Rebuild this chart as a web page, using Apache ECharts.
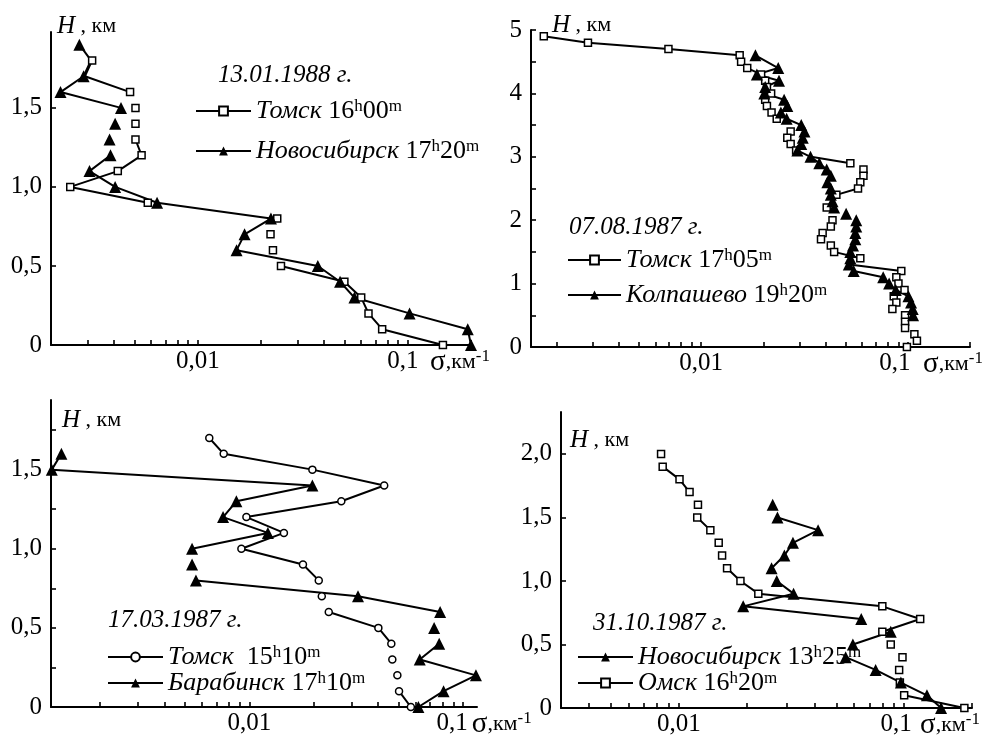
<!DOCTYPE html>
<html><head><meta charset="utf-8">
<script src="https://cdn.jsdelivr.net/npm/echarts@6/dist/echarts.min.js"></script>
<style>html,body{margin:0;padding:0;background:#fff}#c{width:990px;height:740px}</style>
</head><body><div id="c"></div>
<script>
const FONT = '"Liberation Serif", "Times New Roman", serif';
const TICK_COLOR = '#000';

// ---- axis ticks / labels ----
const sigmaTicks = [0.002,0.003,0.004,0.005,0.006,0.007,0.008,0.009,0.01,0.02,0.03,0.04,0.05,0.06,0.07,0.08,0.09,0.1,0.2];
const sigmaLabels = [0.01, 0.1];
const p1YTicks = [0, 0.5, 1, 1.5];
const p2YTicks = [0, 0.5, 1, 1.5, 2, 2.5, 3, 3.5, 4, 4.5, 5];
const p2YLabels = [0, 1, 2, 3, 4, 5];
const p3YTicks = [0, 0.25, 0.5, 0.75, 1, 1.25, 1.5, 1.75];
const p3YLabels = [0, 0.5, 1, 1.5];
const p4YTicks = [0, 0.5, 1, 1.5, 2];

// ---- panel 1: 13.01.1988 ----
const p1Date = '13.01.1988 г.';
const p1Names = ['Томск 16h00m', 'Новосибирск 17h20m'];
const p1TomskH = [1.8, 1.7, 1.6, null, 1.5, null, 1.4, null, 1.3, 1.2, 1.1, 1.0, 0.9, null, 0.8, null, 0.7, null, 0.6, null, 0.5, 0.4, 0.3, 0.2, 0.1, 0];
const p1TomskS = [0.00314, 0.0029, 0.00476, null, 0.00505, null, 0.00505, null, 0.00505, 0.0054, 0.00416, 0.00247, 0.00578, null, 0.0239, null, 0.0222, null, 0.0228, null, 0.0249, 0.0499, 0.06, 0.065, 0.0755, 0.147];
const p1TomskHidden = [1.7];
const p1NovH = [1.9, 1.8, 1.7, 1.6, 1.5, null, 1.4, null, 1.3, null, 1.2, 1.1, 1.0, 0.9, 0.8, 0.7, 0.6, 0.5, 0.4, 0.3, 0.2, 0.1, 0];
const p1NovS = [0.00273, 0.0031, 0.00286, 0.00222, 0.00431, null, 0.00404, null, 0.0038, null, 0.00384, 0.00305, 0.00404, 0.0064, 0.0223, 0.0167, 0.0153, 0.0373, 0.0476, 0.0557, 0.102, 0.193, 0.2];
const p1NovHidden = [1.8];

// ---- panel 2: 07.08.1987 ----
const p2Date = '07.08.1987 г.';
const p2Names = ['Томск 17h05m', 'Колпашево 19h20m'];
const p2TomskH = [4.9, 4.8, 4.7, 4.6, 4.5, 4.4, 4.3, 4.2, 4.1, 4.0, null, 3.9, null, 3.8, null, 3.7, null, 3.6, null, 3.4, null, 3.3, null, 3.2, null, 3.1, null,
  3.0, 2.9, null, 2.8, null, 2.7, null, 2.6, 2.5, 2.4, null, 2.2, null, 2.0, null, 1.9, null, 1.8, null, 1.7, null, 1.6, 1.5, 1.4, null, 1.3, 1.2, null,
  1.1, null, 1.0, null, 0.9, null, 0.8, null, 0.7, null, 0.6, null, 0.5, null, 0.4, null, 0.3, null, 0.2, 0.1, null, 0];
const p2TomskS = [0.00173, 0.00283, 0.00694, 0.01535, 0.0156, 0.0167, 0.0195, 0.0204, 0.0208, 0.0218, null, 0.0204, null, 0.0208, null, 0.0219, null, 0.0232, null, 0.0271, null, 0.0261, null, 0.0271, null, 0.0288, null,
  0.034, 0.0527, null, 0.061, null, 0.061, null, 0.0589, 0.0574, 0.0451, null, 0.0405, null, 0.0432, null, 0.0424, null, 0.0387, null, 0.038, null, 0.0424, 0.044, 0.0589, null, 0.052, 0.093, null,
  0.088, null, 0.0901, null, 0.0964, null, 0.0855, null, 0.088, null, 0.0842, null, 0.097, null, 0.097, null, 0.097, null, 0.1076, 0.1107, null, 0.099];
const p2TomskHidden = [3.0, 1.3];
const p2KolH = [4.6, 4.4, 4.3, 4.2, 4.1, 4.0, 3.9, 3.8, 3.7, 3.6, 3.5, 3.4, 3.3, 3.2, 3.1, 3.0, 2.9, 2.8, 2.7, 2.6, 2.5, 2.4, 2.3, 2.2, null, 2.1, null,
  2.0, 1.9, 1.8, 1.7, 1.6, 1.5, 1.4, 1.3, 1.2, 1.1, 1.0, 0.9, 0.8, 0.7, 0.6, 0.5];
const p2KolS = [0.0183, 0.0236, 0.0186, 0.0238, 0.0204, 0.0202, 0.0252, 0.0261, 0.0243, 0.0259, 0.0305, 0.0316, 0.031, 0.0305, 0.0292, 0.0338, 0.0373, 0.0405, 0.0424, 0.0408, 0.0424, 0.0424, 0.0432, 0.044, null, 0.0503, null,
  0.0563, 0.0563, 0.0557, 0.0557, 0.0543, 0.0527, 0.0527, 0.0518, 0.0547, 0.076, 0.0812, 0.0874, 0.1007, 0.1037, 0.1056, 0.106];

// ---- panel 3: 17.03.1987 ----
const p3Date = '17.03.1987 г.';
const p3Names = ['Томск  15h10m', 'Барабинск 17h10m'];
const p3TomskH = [1.7, 1.6, 1.5, 1.4, 1.3, 1.2, 1.1, 1.0, 0.9, 0.8, null, 0.7, null, 0.6, 0.5, 0.4, null, 0.3, null, 0.2, null, 0.1, 0];
const p3TomskS = [0.00649, 0.00758, 0.0197, 0.0427, 0.0269, 0.00968, 0.0145, 0.00917, 0.0178, 0.0211, null, 0.0218, null, 0.0235, 0.0401, 0.0461, null, 0.0466, null, 0.0492, null, 0.0501, 0.0569];
const p3BarH = [1.6, 1.5, 1.4, 1.3, 1.2, 1.1, 1.0, null, 0.9, null, 0.8, 0.7, 0.6, null, 0.5, null, 0.4, 0.3, 0.2, 0.1, 0];
const p3BarS = [0.00132, 0.00119, 0.0197, 0.00869, 0.00753, 0.0122, 0.00539, null, 0.00539, null, 0.00562, 0.0322, 0.078, null, 0.0731, null, 0.0772, 0.0626, 0.1147, 0.0809, 0.0617];

// ---- panel 4: 31.10.1987 ----
const p4Date = '31.10.1987 г.';
const p4Names = ['Новосибирск 13h25m', 'Омск 16h20m'];
const p4OmskH = [2.0, null, 1.9, 1.8, 1.7, null, 1.6, null, 1.5, 1.4, null, 1.3, null, 1.2, null, 1.1, 1.0, 0.9, 0.8, 0.7, 0.6, null, 0.5, null, 0.4, null, 0.3, null, 0.2, null, 0.1, 0];
const p4OmskS = [0.00834, null, 0.00848, 0.01007, 0.01116, null, 0.01216, null, 0.01207, 0.0138, null, 0.01503, null, 0.01556, null, 0.01637, 0.01877, 0.02253, 0.08, 0.1178, 0.08, null, 0.0872, null, 0.0983, null, 0.095, null, 0.0957, null, 0.1, 0.185];
const p4NovH = [1.6, null, 1.5, 1.4, 1.3, 1.2, 1.1, null, 1.0, 0.9, 0.8, 0.7, null, 0.6, 0.5, null, 0.4, 0.3, 0.2, 0.1, 0];
const p4NovS = [0.0261, null, 0.0274, 0.0415, 0.0321, 0.0294, 0.0258, null, 0.0272, 0.0323, 0.0193, 0.0645, null, 0.0872, 0.0592, null, 0.055, 0.0747, 0.0967, 0.1262, 0.1458];

// ---- helpers ----
function pts(H, S, hidden) {
  return H.map((h, i) => {
    if (h === null) return ['-', '-'];
    if (hidden && hidden.indexOf(h) >= 0) return { value: [S[i], h], symbol: 'none' };
    return [S[i], h];
  });
}
const MARK = {
  sq: { symbol: 'rect', symbolSize: 7, itemStyle: { color: '#fff', borderColor: '#000', borderWidth: 1.5 } },
  tri: { symbol: 'triangle', symbolSize: 12, itemStyle: { color: '#000', borderColor: '#000', borderWidth: 0 } },
  ci: { symbol: 'circle', symbolSize: 7, itemStyle: { color: '#fff', borderColor: '#000', borderWidth: 1.5 } }
};
function ser(name, gi, H, S, kind, hidden) {
  return Object.assign({
    type: 'line', name, xAxisIndex: gi, yAxisIndex: gi, data: pts(H, S, hidden),
    connectNulls: false, clip: false, silent: true, animation: false,
    lineStyle: { color: '#000', width: 2 }, emphasis: { disabled: true }
  }, MARK[kind]);
}
const yFmt1 = v => (v === 0 ? '0' : v.toFixed(1).replace('.', ','));
const tenthShift = [10, 26, 22, 16];
const xFmt = v => (v >= 0.1 ? '{t|0,1}' : String(v).replace('.', ','));

const grids = [
  { left: 51, top: 32, width: 420, height: 313 },
  { left: 531, top: 30, width: 439, height: 317 },
  { left: 51, top: 400, width: 426, height: 307 },
  { left: 561, top: 412, width: 411, height: 296 }
];
const xRange = [[0.002, 0.2], [0.0015, 0.2], [0.00118, 0.116], [0.003, 0.2]];
const xNameGap = [-41, -47, -7, -52];
const yMax = [1.98, 5, 1.94, 2.33];
const yTicks = [p1YTicks, p2YTicks, p3YTicks, p4YTicks];
const yLabels = [p1YTicks, p2YLabels, p3YLabels, p4YTicks];
const yNameGap = [6, 5, -20, -28];
const yNamePadLeft = [6, 21, 11, 9];

function mkAxisLine() { return { show: true, lineStyle: { color: '#000', width: 2 } }; }
function mkTick(values) {
  return { show: true, inside: true, length: 5, lineStyle: { color: TICK_COLOR, width: 1.6 }, customValues: values };
}
const xAxes = grids.map((g, i) => ({
  type: 'log', logBase: 10, gridIndex: i, min: xRange[i][0], max: xRange[i][1],
  axisLine: mkAxisLine(), splitLine: { show: false },
  axisTick: mkTick(sigmaTicks),
  axisLabel: {
    customValues: sigmaLabels, formatter: xFmt, color: '#000', fontFamily: FONT, fontSize: 25, margin: 4,
    rich: { t: { fontFamily: FONT, fontSize: 25, color: '#000', padding: [0, tenthShift[i], 0, 0] } }
  },
  name: '{s|σ}{k|,км}{e|-1}', nameLocation: 'end', nameGap: xNameGap[i],
  nameTextStyle: {
    align: 'left', verticalAlign: 'top', padding: [3, 0, 0, 0],
    rich: {
      s: { fontFamily: FONT, fontSize: 29, lineHeight: 28, color: '#000' },
      k: { fontFamily: FONT, fontSize: 22, lineHeight: 28, color: '#000' },
      e: { fontFamily: FONT, fontSize: 17, lineHeight: 12, verticalAlign: 'top', color: '#000' }
    }
  }
}));
const yAxes = grids.map((g, i) => ({
  type: 'value', gridIndex: i, min: 0, max: yMax[i],
  axisLine: mkAxisLine(), splitLine: { show: false },
  axisTick: mkTick(yTicks[i]),
  axisLabel: { customValues: yLabels[i], formatter: i === 1 ? (v => String(v)) : yFmt1, color: '#000', fontFamily: FONT, fontSize: 25, margin: 9 },
  name: '{h|H}{k| , км}', nameLocation: 'end', nameGap: yNameGap[i],
  nameTextStyle: {
    align: 'left', verticalAlign: 'middle', padding: [0, 0, 0, yNamePadLeft[i]],
    rich: {
      h: { fontFamily: FONT, fontStyle: 'italic', fontSize: 25, color: '#000' },
      k: { fontFamily: FONT, fontSize: 22, color: '#000' }
    }
  }
}));

function legendFmt(name) {
  const m = name.match(/^(\S+)(\s+)(\d+)h(\d+)m$/);
  return '{i|' + m[1] + '}{n|' + m[2] + m[3] + '}{s|h}{n|' + m[4] + '}{s|m}';
}
const legendRich = {
  i: { fontFamily: FONT, fontStyle: 'italic', fontSize: 26, lineHeight: 26, color: '#000' },
  n: { fontFamily: FONT, fontSize: 26, lineHeight: 26, color: '#000' },
  s: { fontFamily: FONT, fontSize: 17, lineHeight: 12, verticalAlign: 'top', color: '#000' }
};
const legendPos = [
  { left: 195, top: 98, itemWidth: 55, itemGap: 14, names: p1Names },
  { left: 567, top: 247, itemWidth: 53, itemGap: 9, names: p2Names },
  { left: 107, top: 644, itemWidth: 55, itemGap: 0, names: p3Names },
  { left: 577, top: 644, itemWidth: 55, itemGap: 0, names: p4Names }
];
const legends = legendPos.map(p => ({
  orient: 'vertical', left: p.left, top: p.top, padding: 0, itemWidth: p.itemWidth, itemHeight: 11,
  itemGap: p.itemGap, selectedMode: false, data: p.names, formatter: legendFmt,
  textStyle: { color: '#000', rich: legendRich }
}));

const dates = [[p1Date, 218, 75], [p2Date, 569, 227], [p3Date, 108, 620], [p4Date, 593, 623]];

const option = {
  animation: false,
  backgroundColor: '#fff',
  grid: grids.map(g => Object.assign({}, g)),
  xAxis: xAxes,
  yAxis: yAxes,
  legend: legends,
  graphic: dates.map(d => ({
    type: 'text', x: d[1], y: d[2], silent: true,
    style: { text: d[0], font: 'italic 25px ' + FONT, fill: '#000', verticalAlign: 'middle' }
  })),
  series: [
    ser(p1Names[0], 0, p1TomskH, p1TomskS, 'sq', p1TomskHidden),
    ser(p1Names[1], 0, p1NovH, p1NovS, 'tri', p1NovHidden),
    ser(p2Names[0], 1, p2TomskH, p2TomskS, 'sq', p2TomskHidden),
    ser(p2Names[1], 1, p2KolH, p2KolS, 'tri'),
    ser(p3Names[0], 2, p3TomskH, p3TomskS, 'ci'),
    ser(p3Names[1], 2, p3BarH, p3BarS, 'tri'),
    ser(p4Names[1], 3, p4OmskH, p4OmskS, 'sq'),
    ser(p4Names[0], 3, p4NovH, p4NovS, 'tri')
  ]
};
const chart = echarts.init(document.getElementById('c'), null, { renderer: 'canvas' });
chart.setOption(option);
</script></body></html>
